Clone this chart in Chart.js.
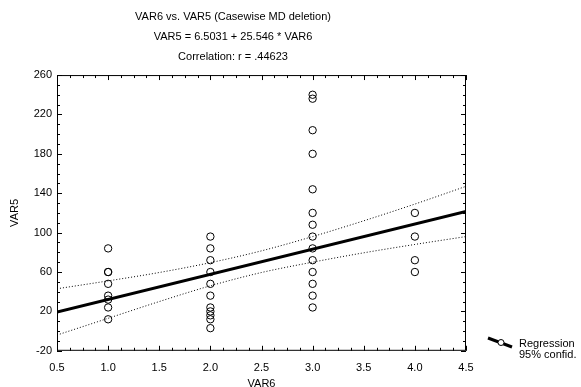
<!DOCTYPE html>
<html>
<head>
<meta charset="utf-8">
<script src="https://cdn.jsdelivr.net/npm/chart.js@4.4.0/dist/chart.umd.min.js"></script>
<style>
  html, body { margin: 0; padding: 0; background: #fff; }
  #wrap { width: 581px; height: 387px; }
</style>
</head>
<body>
<div id="wrap"><canvas id="scatter" width="581" height="387"></canvas></div>
<script>
const titleLines = [
    'VAR6 vs. VAR5 (Casewise MD deletion)',
    'VAR5 = 6.5031 + 25.546 * VAR6',
    'Correlation: r = .44623'
];
const xTitle = 'VAR6';
const yTitle = 'VAR5';
const legendLabels = ['Regression', '95% confid.'];

// observed VAR5 values for each VAR6 level
const var6Levels = [1, 2, 3, 4];
const var5AtOne = [84, 60, 60, 48, 36, 32, 24, 12];
const var5AtTwo = [96, 84, 72, 60, 48, 36, 24, 20, 16, 12, 3];
const var5AtThree = [240, 236, 204, 180, 144, 120, 108, 96, 84, 72, 60, 48, 36, 24];
const var5AtFour = [120, 96, 72, 60];

// fitted line and 95% band
const regX = [0.5, 4.5];
const regY = [19.3, 121.5];
const bandX = [0.5, 1.0, 1.5, 2.0, 2.5, 3.0, 3.5, 4.0, 4.5];
const bandUpper = [43, 51, 59.5, 69.5, 81.5, 96, 112, 129, 147];
const bandLower = [-4, 13, 30, 46, 59.5, 70, 79.5, 88, 96];

const FONT = 'Arial, "Liberation Sans", sans-serif';

const groups = [var5AtOne, var5AtTwo, var5AtThree, var5AtFour];
const points = [];
groups.forEach((vals, i) => {
    vals.forEach(v => points.push({ x: var6Levels[i], y: v }));
});

const toXY = (xs, ys) => xs.map((x, i) => ({ x: x, y: ys[i] }));

// box frame, inward ticks and the little legend on the right
const frameAndTicks = {
    id: 'frameAndTicks',
    afterDraw(chart) {
        const { ctx, chartArea: a, scales } = chart;
        ctx.save();
        ctx.strokeStyle = '#000';
        ctx.lineWidth = 1;
        ctx.strokeRect(a.left + 0.5, a.top + 0.5, a.right - a.left - 1, a.bottom - a.top - 1);

        ctx.beginPath();
        scales.y.ticks.forEach(t => {
            const py = Math.round(scales.y.getPixelForValue(t.value)) + 0.5;
            const len = t.label !== '' ? 5 : 3;
            ctx.moveTo(a.left, py); ctx.lineTo(a.left + len, py);
            ctx.moveTo(a.right, py); ctx.lineTo(a.right - len, py);
        });
        scales.x.ticks.forEach(t => {
            const px = Math.round(scales.x.getPixelForValue(t.value)) + 0.5;
            const len = t.label !== '' ? 5 : 3;
            ctx.moveTo(px, a.bottom); ctx.lineTo(px, a.bottom - len);
            ctx.moveTo(px, a.top); ctx.lineTo(px, a.top + len);
        });
        ctx.stroke();

        // legend
        const lx = a.right + 22;
        const ly = 338;
        ctx.lineWidth = 3;
        ctx.beginPath();
        ctx.moveTo(lx, ly);
        ctx.lineTo(lx + 24, ly + 9);
        ctx.stroke();
        ctx.lineWidth = 1;
        ctx.fillStyle = '#fff';
        ctx.beginPath();
        ctx.arc(lx + 13, ly + 4.5, 3, 0, Math.PI * 2);
        ctx.fill();
        ctx.stroke();

        ctx.fillStyle = '#000';
        ctx.font = '11px ' + FONT;
        ctx.textBaseline = 'middle';
        ctx.fillText(legendLabels[0], lx + 31, ly + 6);
        ctx.fillText(legendLabels[1], lx + 31, ly + 17);
        ctx.restore();
    }
};

new Chart(document.getElementById('scatter'), {
    type: 'scatter',
    data: {
        datasets: [
            {
                data: points,
                pointStyle: 'circle',
                pointRadius: 3.7,
                pointBorderWidth: 1,
                pointBorderColor: '#000',
                pointBackgroundColor: 'rgba(255,255,255,0)',
                order: 0
            },
            {
                type: 'line',
                data: toXY(regX, regY),
                borderColor: '#000',
                borderWidth: 3,
                pointRadius: 0,
                fill: false,
                order: 1
            },
            {
                type: 'line',
                data: toXY(bandX, bandUpper),
                borderColor: '#000',
                borderWidth: 1,
                borderDash: [1, 2],
                pointRadius: 0,
                tension: 0.4,
                cubicInterpolationMode: 'monotone',
                fill: false,
                order: 2
            },
            {
                type: 'line',
                data: toXY(bandX, bandLower),
                borderColor: '#000',
                borderWidth: 1,
                borderDash: [1, 2],
                pointRadius: 0,
                tension: 0.4,
                cubicInterpolationMode: 'monotone',
                fill: false,
                order: 2
            }
        ]
    },
    options: {
        responsive: false,
        animation: false,
        layout: { padding: { left: 0, right: 115, top: 0, bottom: -2 } },
        plugins: {
            legend: { display: false },
            tooltip: { enabled: false },
            title: {
                display: true,
                text: titleLines,
                color: '#000',
                font: { family: FONT, size: 11, weight: 'normal', lineHeight: 1.82 },
                padding: { top: 7, bottom: 8 }
            }
        },
        scales: {
            x: {
                type: 'linear',
                min: 0.5,
                max: 4.5,
                grid: { display: false },
                border: { display: false },
                ticks: {
                    stepSize: 0.125,
                    autoSkip: false,
                    maxRotation: 0,
                    color: '#000',
                    padding: 3,
                    font: { family: FONT, size: 11 },
                    callback: v => (Math.abs((v - 0.5) / 0.5 - Math.round((v - 0.5) / 0.5)) < 1e-6 ? v.toFixed(1) : '')
                },
                title: {
                    display: true,
                    text: xTitle,
                    color: '#000',
                    font: { family: FONT, size: 11, lineHeight: 1 },
                    padding: { top: 0, bottom: 0 }
                }
            },
            y: {
                type: 'linear',
                min: -20,
                max: 260,
                grid: { display: false, drawTicks: false },
                border: { display: false },
                afterFit: s => { s.width = 57; },
                ticks: {
                    stepSize: 10,
                    autoSkip: false,
                    color: '#000',
                    padding: 5,
                    font: { family: FONT, size: 11 },
                    callback: v => ((v + 20) % 40 === 0 ? String(v) : '')
                },
                title: {
                    display: true,
                    text: yTitle,
                    color: '#000',
                    font: { family: FONT, size: 11 },
                    padding: { top: 8, bottom: 0 }
                }
            }
        }
    },
    plugins: [frameAndTicks]
});
</script>
</body>
</html>
